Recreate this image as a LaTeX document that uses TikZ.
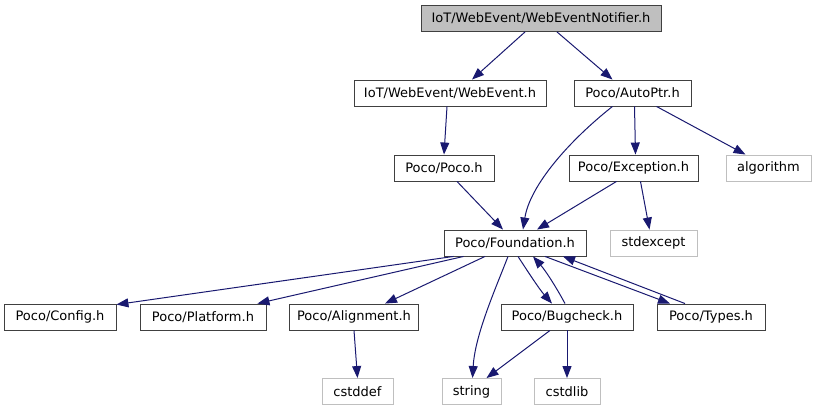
\documentclass[tikz,border=0pt]{standalone}
\usepackage{fontspec}
\setmainfont{DejaVu Sans}
\usetikzlibrary{arrows.meta}
\definecolor{edgeblue}{RGB}{25,25,112}
\definecolor{boxgray}{RGB}{191,191,191}
\tikzset{
  hdr/.style={draw=black!75, line width=0.9pt, fill=white, minimum height=26pt, inner sep=0pt, font=\fontsize{13}{15}\selectfont},
  sys/.style={hdr, draw=boxgray},
  dep/.style={edgeblue, line width=1pt, -{Triangle[length=12pt,width=9pt]}}
}
\begin{document}
\begin{tikzpicture}[x=1pt,y=-1pt]
\useasboundingbox (0,0) rectangle (818,411);

% Headers
\node[hdr, fill=boxgray, minimum width=240pt] (notifier) at (541,18.5) {IoT/WebEvent/WebEventNotifier.h};
\node[hdr, minimum width=192pt] (webevent) at (450,93) {IoT/WebEvent/WebEvent.h};
\node[hdr, minimum width=117pt] (autoptr) at (632.5,93) {Poco/AutoPtr.h};
\node[hdr, minimum width=100pt] (poco) at (444,168) {Poco/Poco.h};
\node[hdr, minimum width=129pt] (exception) at (633.5,168) {Poco/Exception.h};
\node[sys, minimum width=85pt] (algorithm) at (768.5,168) {algorithm};
\node[hdr, minimum width=142pt] (found) at (515,243) {Poco/Foundation.h};
\node[sys, minimum width=87pt] (stdexcept) at (653.5,243) {stdexcept};
\node[hdr, minimum width=112pt] (config) at (60,317) {Poco/Config.h};
\node[hdr, minimum width=126pt] (platform) at (203,317) {Poco/Platform.h};
\node[hdr, minimum width=129pt] (align) at (354,317) {Poco/Alignment.h};
\node[hdr, minimum width=132pt] (bugcheck) at (567,317) {Poco/Bugcheck.h};
\node[hdr, minimum width=108pt] (types) at (711,317) {Poco/Types.h};
\node[sys, minimum width=71pt] (cstddef) at (357.5,391.5) {cstddef};
\node[sys, minimum width=59pt] (string) at (471.5,391.5) {string};
\node[sys, minimum width=66pt] (cstdlib) at (567,391.5) {cstdlib};

% Includes
\draw[dep] ([xshift=-16pt]notifier.south) -- ([xshift=22pt]webevent.north);
\draw[dep] ([xshift=16pt]notifier.south) -- ([xshift=-20pt]autoptr.north);
\draw[dep] ([xshift=-3pt]webevent.south) -- (poco.north);
\draw[dep] ([xshift=-20pt]autoptr.south) .. controls (570,140) and (530,185) .. ([xshift=8pt]found.north);
\draw[dep] ([xshift=2pt]autoptr.south) -- ([xshift=2pt]exception.north);
\draw[dep] ([xshift=24pt]autoptr.south) -- ([xshift=-23pt]algorithm.north);
\draw[dep] ([xshift=13pt]poco.south) -- ([xshift=-12pt]found.north);
\draw[dep] ([xshift=-17pt]exception.south) -- ([xshift=22pt]found.north);
\draw[dep] ([xshift=7pt]exception.south) -- ([xshift=-4pt]stdexcept.north);
\draw[dep] ([xshift=10pt]found.south west) -- ([yshift=-1pt]config.north east);
\draw[dep] ([xshift=20pt]found.south west) -- ([xshift=-9pt]platform.north east);
\draw[dep] ([xshift=-30pt]found.south) -- ([xshift=31pt]align.north);
\draw[dep] ([xshift=-7pt]found.south) .. controls (495,290) and (475,335) .. ([xshift=1pt]string.north);
\draw[dep] ([xshift=3pt]found.south) .. controls (530,275) and (540,290) .. ([xshift=-15pt]bugcheck.north);
\draw[dep] ([xshift=-2pt]bugcheck.north) .. controls (555,285) and (545,270) .. ([xshift=18pt]found.south);
\draw[dep] ([xshift=30pt]found.south) -- ([xshift=-41pt]types.north);
\draw[dep] ([xshift=-26pt]types.north) -- ([xshift=48pt]found.south);
\draw[dep] (align.south) -- (cstddef.north);
\draw[dep] ([xshift=-17pt]bugcheck.south) -- ([xshift=15pt]string.north);
\draw[dep] (bugcheck.south) -- (cstdlib.north);
\end{tikzpicture}
\end{document}
